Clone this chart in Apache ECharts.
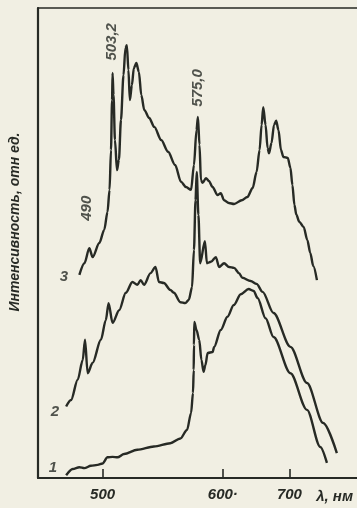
<!DOCTYPE html>
<html>
<head>
<meta charset="utf-8">
<script src="https://cdn.jsdelivr.net/npm/echarts@6/dist/echarts.min.js"></script>
<style>
  html, body { margin: 0; padding: 0; background: #f1efe3; }
  #chart { width: 357px; height: 508px; }
</style>
</head>
<body>
<div id="chart"></div>
<script>
// wavelength (nm) / intensity (rel. units, 0..100)
const wl1 = [469.7, 475.2, 480.7, 484.9, 490.3, 495.9, 500.0, 504.1, 508.3, 512.4, 517.9, 528.9, 542.7, 556.4, 564.7, 570.2, 573.6, 575.2, 575.8, 576.0, 576.3, 578.1, 580.4, 582.2, 584.0, 585.5, 587.4, 591.5, 592.8, 598.3, 607.0, 616.4, 626.9, 638.8, 646.3, 652.2, 664.2, 676.1, 701.5, 726.4, 746.3, 756.3];
const int1 = [0.6, 1.9, 2.3, 2.1, 2.6, 2.8, 3.1, 4.4, 4.5, 4.4, 5.1, 6.0, 6.7, 7.4, 8.4, 10.2, 13.8, 18.1, 23.0, 28.3, 33.2, 31.5, 29.4, 25.1, 22.6, 24.0, 26.6, 26.8, 27.9, 31.5, 34.3, 36.8, 39.1, 40.2, 39.8, 38.3, 34.0, 30.0, 22.3, 14.5, 6.6, 3.2];

const wl2 = [469.7, 473.8, 479.3, 483.5, 485.4, 487.6, 491.7, 498.6, 502.7, 505.0, 508.3, 513.8, 519.3, 524.8, 528.9, 531.7, 534.5, 539.9, 544.0, 546.9, 551.0, 556.4, 559.3, 564.7, 568.8, 571.7, 574.4, 576.0, 577.3, 578.3, 579.7, 581.2, 585.1, 586.8, 590.1, 594.2, 596.9, 601.9, 609.4, 616.9, 624.3, 629.4, 641.8, 650.7, 659.7, 676.1, 701.5, 726.4, 750.7, 771.2];
const int2 = [15.2, 16.6, 20.9, 25.1, 29.4, 22.3, 24.5, 29.4, 33.6, 37.2, 33.0, 35.7, 39.4, 41.7, 41.1, 42.1, 41.1, 43.6, 44.9, 41.7, 41.5, 40.0, 39.4, 37.4, 37.2, 37.9, 40.6, 48.5, 59.1, 65.1, 56.0, 45.7, 50.4, 45.7, 46.0, 47.0, 44.9, 45.7, 44.9, 44.7, 43.6, 42.6, 41.9, 41.3, 39.6, 35.1, 27.9, 20.2, 11.7, 5.3];

const wl3 = [480.7, 484.9, 489.0, 491.7, 497.3, 501.4, 504.1, 505.8, 507.0, 507.9, 508.3, 509.1, 510.3, 512.0, 513.6, 515.3, 517.4, 519.0, 520.2, 521.5, 522.7, 524.4, 526.0, 528.1, 530.2, 532.2, 534.7, 538.8, 543.0, 548.8, 554.5, 560.3, 565.3, 569.4, 573.6, 576.0, 578.1, 579.3, 580.6, 581.8, 583.2, 586.0, 588.4, 591.5, 595.6, 598.3, 601.9, 609.0, 616.9, 628.4, 636.9, 644.8, 650.7, 655.2, 658.2, 660.7, 664.2, 667.2, 669.4, 673.1, 676.9, 680.1, 683.6, 687.3, 691.0, 697.5, 701.5, 704.5, 707.5, 710.4, 714.9, 721.3, 726.9, 731.3, 735.8, 741.3];
const int3 = [43.2, 45.7, 48.9, 47.0, 50.0, 52.8, 56.6, 61.3, 69.8, 80.4, 86.2, 81.5, 71.9, 65.5, 67.7, 76.2, 85.7, 91.5, 92.1, 86.8, 80.4, 83.6, 87.2, 88.3, 86.4, 81.5, 78.3, 76.6, 74.7, 71.9, 69.4, 66.6, 63.0, 61.9, 61.3, 66.6, 74.0, 76.8, 70.9, 63.4, 62.8, 63.8, 63.2, 61.9, 60.2, 60.6, 59.1, 58.5, 58.3, 59.1, 59.8, 61.7, 65.1, 69.8, 75.1, 78.9, 75.1, 70.2, 69.1, 71.3, 75.1, 76.0, 74.0, 69.8, 68.3, 68.1, 66.0, 62.3, 58.1, 56.0, 54.5, 53.4, 50.6, 47.9, 45.1, 42.1];

const tickNm = [500, 600, 700];
const tickLabels = ['500', '600·', '700'];

// peak annotations and curve numbers (text, wavelength, intensity)
const noteText = ['490', '503,2', '575,0'];
const noteWl = [486.8, 507.4, 579.3];
const noteInt = [57.4, 92.8, 83.0];
const curveText = ['1', '2', '3'];
const curveWl = [458.7, 460.3, 467.8];
const curveInt = [2.1, 14.0, 42.8];

// the printed wavelength scale is stretched below 600 nm and squeezed above
function toAxis(nm) {
    return nm <= 600 ? nm : 600 + (nm - 600) * 0.554;
}
const pair = (w, v) => w.map((x, i) => [toAxis(x), v[i]]);

const ink = '#272a25';
const font = 'Liberation Sans';

const lineSeries = (w, v) => ({
    type: 'line',
    data: pair(w, v),
    showSymbol: false,
    smooth: 0.3,
    smoothMonotone: 'x',
    lineStyle: {color: ink, width: 2.4},
    silent: true
});

const textSeries = (txt, w, v, rotate, size) => ({
    type: 'scatter',
    symbolSize: 0,
    silent: true,
    data: txt.map((t, i) => ({
        value: [toAxis(w[i]), v[i]],
        label: {
            show: true, position: 'inside', formatter: t, rotate: rotate,
            color: ink, fontFamily: font, fontStyle: 'italic', fontWeight: 'bold', fontSize: size
        }
    }))
});

const chart = echarts.init(document.getElementById('chart'));
chart.setOption({
    backgroundColor: '#f1efe3',
    animation: false,
    grid: {left: 36, right: 0, top: 8, bottom: 30},
    xAxis: [{
        type: 'value',
        min: 446.3,
        max: 711.6,
        name: 'λ, нм',
        nameLocation: 'end',
        nameGap: -4,
        nameTextStyle: {
            color: ink, fontFamily: font, fontStyle: 'italic', fontWeight: 'bold', fontSize: 15,
            align: 'right', verticalAlign: 'top', padding: [11, 0, 0, 0]
        },
        axisLine: {show: true, lineStyle: {color: ink, width: 2.2}},
        axisTick: {show: true, inside: true, length: 9, customValues: tickNm.map(toAxis), lineStyle: {color: ink, width: 1.6}},
        axisLabel: {
            customValues: tickNm.map(toAxis),
            formatter: (u) => tickLabels[tickNm.findIndex(n => Math.abs(toAxis(n) - u) < 0.5)] || '',
            color: ink, fontFamily: font, fontStyle: 'italic', fontWeight: 'bold', fontSize: 15, margin: 9
        },
        splitLine: {show: false}
    }, {
        type: 'value',
        position: 'top',
        min: 446.3,
        max: 711.6,
        axisLine: {show: true, lineStyle: {color: ink, width: 1.6}},
        axisTick: {show: false},
        axisLabel: {show: false},
        splitLine: {show: false}
    }],
    yAxis: {
        type: 'value',
        min: 0,
        max: 100,
        name: 'Интенсивность, отн ед.',
        nameLocation: 'middle',
        nameRotate: 90,
        nameGap: 16,
        nameTextStyle: {
            color: ink, fontFamily: font, fontStyle: 'italic', fontWeight: 'bold', fontSize: 14,
            padding: [0, 0, 0, 42]
        },
        axisLine: {show: true, lineStyle: {color: ink, width: 2.2}},
        axisTick: {show: false},
        axisLabel: {show: false},
        splitLine: {show: false}
    },
    series: [
        lineSeries(wl1, int1),
        lineSeries(wl2, int2),
        lineSeries(wl3, int3),
        textSeries(noteText, noteWl, noteInt, 90, 15),
        textSeries(curveText, curveWl, curveInt, 0, 15)
    ]
});
</script>
</body>
</html>
